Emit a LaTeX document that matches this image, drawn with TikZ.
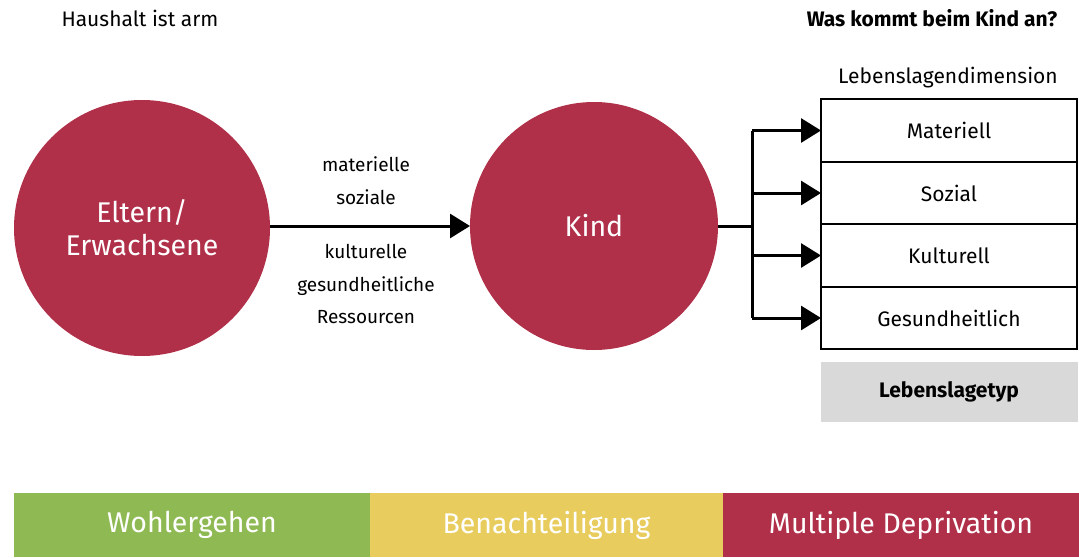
\documentclass[tikz,border=0pt]{standalone}
\usepackage{fontspec}
\setmainfont{Fira Sans}
\usetikzlibrary{arrows.meta,positioning}

\definecolor{kindred}{HTML}{B0304A}
\definecolor{wohlgreen}{HTML}{8FBA53}
\definecolor{benachyellow}{HTML}{E8CD5E}

\begin{document}
\begin{tikzpicture}[x=1pt,y=-1pt,
                    every node/.style={font=\fontsize{21}{24}\selectfont,outer sep=0pt},
                    person/.style={circle,fill=kindred,text=white,inner sep=0pt,align=center,
                                   font=\fontsize{28.5}{33}\selectfont},
                    dim/.style={draw,line width=1.6pt,minimum width=256pt,minimum height=62.5pt,inner sep=0pt},
                    band/.style={minimum height=64pt,text=white,inner sep=0pt,font=\fontsize{28.5}{30}\selectfont},
                    flow/.style={line width=3pt,-{Triangle[length=20pt,width=24pt]}}]

\useasboundingbox (0,0) rectangle (1079,557);

\node at (140,18) {Haushalt ist arm};
\node at (932,18) {\bfseries Was kommt beim Kind an?};

\node[person,minimum size=256pt] (eltern) at (142,228) {Eltern/\\Erwachsene};
\node[person,minimum size=248pt] (kind) at (594,226) {Kind};
\draw[flow] (eltern.east |- kind) -- (kind);

\node[align=center,font=\fontsize{19}{33}\selectfont] (resup) at (366,181) {materielle\\soziale};
\node[align=center,font=\fontsize{19}{32.5}\selectfont] (resdown) at (366,284) {kulturelle\\gesundheitliche\\Ressourcen};

\node[dim] (materiell) at (949,130.5) {Materiell};
\node[dim,below=0pt of materiell] (sozial) {Sozial};
\node[dim,below=0pt of sozial] (kulturell) {Kulturell};
\node[dim,below=0pt of kulturell] (gesund) {Gesundheitlich};
\node (dimtitle) at (948,78) {Lebenslagendimension};

\coordinate (split) at (752,226);
\draw[line width=3pt] (kind.east) -- (split);
\draw[line width=3pt] (split |- materiell) -- (split |- gesund);
\foreach \d in {materiell,sozial,kulturell,gesund}
  \draw[flow] (split |- \d) -- (\d.west);

\node[fill=gray!30,minimum width=257pt,minimum height=60pt,below=13pt of gesund] (typ) {\bfseries Lebenslagetyp};

\node[band,fill=wohlgreen,minimum width=356pt] (wohl) at (192,525) {Wohlergehen};
\node[band,fill=benachyellow,minimum width=353pt,right=0pt of wohl] (benach) {Benachteiligung};
\node[band,fill=kindred,minimum width=356pt,right=0pt of benach] (depriv) {Multiple Deprivation};

\end{tikzpicture}
\end{document}
